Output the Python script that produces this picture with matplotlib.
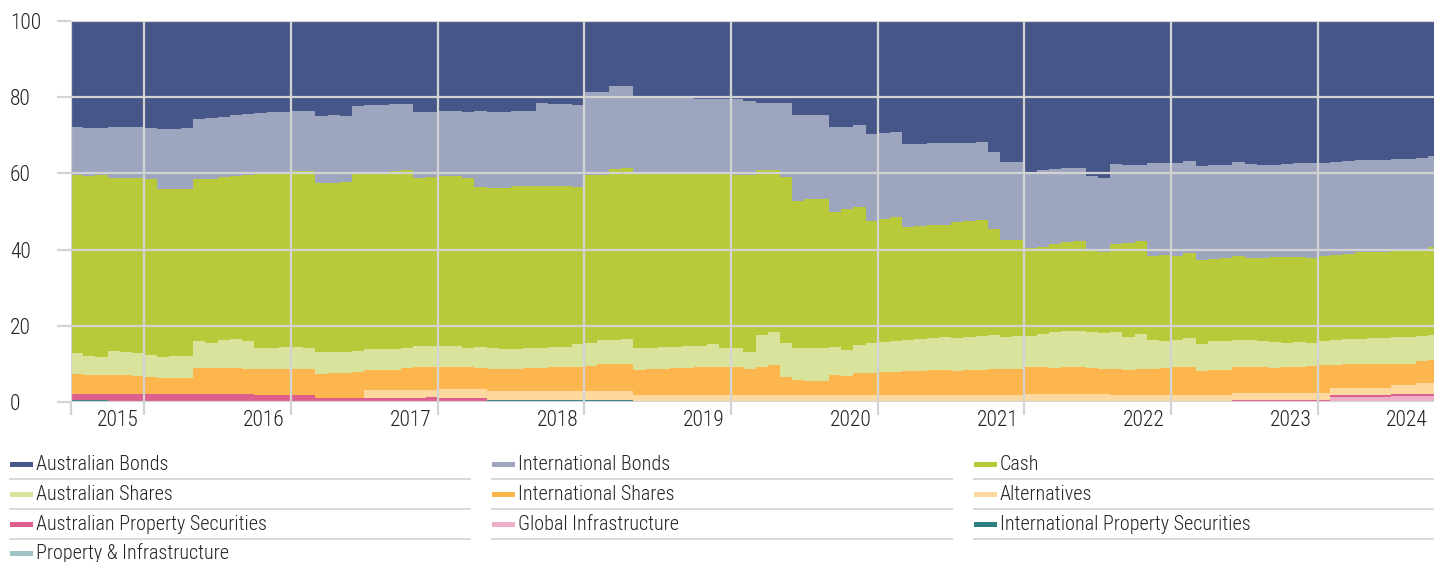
import numpy as np
import matplotlib
matplotlib.use("Agg")
import matplotlib.pyplot as plt
from matplotlib.lines import Line2D
from matplotlib.patches import Rectangle
from matplotlib import font_manager as fm

# pick a condensed sans font if one is installed
_entries = fm.fontManager.ttflist
_family, _stretch, _condensed = 'DejaVu Sans', 'normal', False
for want in ['Roboto Condensed', 'Liberation Sans Narrow', 'Noto Sans', 'Open Sans',
             'DejaVu Sans Condensed', 'DejaVu Sans']:
    hits = [f for f in _entries if f.name == want and
            ('Condensed' in want or 'Narrow' in want or
             str(f.stretch) in ('condensed', 'semi-condensed', 'extra-condensed'))]
    if hits:
        _family = want
        _stretch = hits[0].stretch if str(hits[0].stretch) != 'normal' else 'normal'
        _condensed = True
        break
plt.rcParams['font.family'] = [_family, 'DejaVu Sans']
plt.rcParams['font.stretch'] = _stretch
plt.rcParams['font.weight'] = 'light'
TICK_FS = 15.5 if _condensed else 12.5
LEG_FS = 14.5 if _condensed else 11.8

# ---------------- data (monthly, Jul 2015 .. Oct 2024, % of portfolio) ----------------
years = [2015, 2016, 2017, 2018, 2019, 2020, 2021, 2022, 2023, 2024]
first_year_months = 6  # months shown in the first (partial) year

aus_bonds = [
    27.9, 28.2, 28.2, 27.9, 27.9, 27.8, 28.2, 28.4, 28.4, 28.0,
    25.7, 25.5, 25.1, 24.8, 24.5, 24.1, 23.9, 23.8, 23.7, 23.7,
    24.9, 24.8, 25.0, 22.2, 22.1, 22.0, 21.9, 21.8, 24.0, 23.8,
    23.5, 23.7, 23.9, 23.6, 23.8, 23.9, 23.7, 23.7, 21.6, 21.7,
    21.8, 22.0, 18.7, 18.6, 17.1, 17.1, 19.7, 19.7, 19.7, 19.7,
    19.7, 20.5, 20.5, 20.5, 20.5, 20.9, 21.6, 21.6, 21.4, 24.7,
    24.7, 24.7, 27.9, 27.9, 27.3, 29.7, 29.5, 29.2, 32.2, 32.2,
    32.1, 32.0, 32.0, 31.9, 31.8, 34.3, 37.0, 37.0, 39.6, 39.2,
    38.8, 38.5, 38.5, 40.8, 41.3, 37.6, 37.8, 37.7, 37.4, 37.2,
    37.2, 36.8, 38.0, 37.7, 37.7, 37.0, 37.5, 37.9, 37.8, 37.5,
    37.4, 37.4, 37.2, 36.9, 36.7, 36.4, 36.4, 36.4, 36.1, 36.1,
    35.9, 35.4,
]
intl_bonds = [
    12.5, 12.4, 12.2, 13.4, 13.4, 13.5, 13.4, 15.6, 15.6, 16.0,
    15.8, 16.0, 15.9, 15.9, 16.0, 15.7, 15.9, 16.0, 15.6, 15.6,
    17.5, 17.6, 17.3, 17.5, 17.6, 17.6, 17.6, 17.4, 17.3, 17.2,
    17.3, 17.1, 17.4, 20.1, 20.0, 19.9, 19.7, 19.7, 21.8, 21.6,
    21.5, 21.5, 21.7, 21.8, 21.7, 21.6, 20.5, 20.5, 20.5, 20.5,
    20.5, 19.7, 19.7, 19.7, 19.9, 19.6, 17.5, 17.5, 19.5, 22.5,
    22.1, 22.1, 22.3, 21.4, 21.5, 22.8, 22.5, 22.3, 21.9, 21.7,
    21.5, 21.6, 20.7, 20.5, 20.3, 20.4, 20.6, 20.6, 20.1, 20.2,
    19.8, 19.4, 19.3, 19.4, 19.3, 20.8, 20.4, 20.0, 24.2, 24.2,
    24.4, 24.2, 24.7, 24.7, 24.4, 24.8, 24.8, 24.3, 24.2, 24.4,
    24.6, 24.9, 24.4, 24.4, 24.4, 24.1, 24.1, 24.1, 24.3, 24.3,
    24.4, 24.0,
]
cash = [
    46.7, 47.2, 47.7, 45.4, 45.7, 45.9, 46.0, 44.2, 44.0, 43.8,
    42.6, 42.9, 42.8, 42.8, 43.4, 45.9, 46.0, 45.8, 46.3, 46.5,
    44.4, 44.4, 44.5, 47.0, 46.5, 46.6, 46.7, 46.5, 44.1, 44.4,
    44.5, 44.5, 44.4, 41.9, 42.1, 42.4, 42.6, 42.5, 42.5, 42.2,
    42.2, 41.4, 44.0, 43.4, 44.8, 44.8, 45.5, 45.5, 45.3, 45.3,
    45.1, 45.1, 44.7, 45.7, 45.5, 46.3, 43.3, 42.6, 43.7, 38.7,
    39.1, 39.1, 35.3, 37.1, 36.2, 32.1, 32.2, 32.5, 29.6, 29.6,
    29.5, 29.3, 30.4, 30.5, 30.7, 27.8, 25.3, 25.2, 22.9, 22.8,
    23.1, 23.5, 23.6, 21.5, 21.4, 23.1, 24.7, 24.5, 22.1, 22.5,
    22.1, 22.3, 22.1, 21.6, 21.9, 22.0, 21.5, 21.8, 22.2, 22.7,
    22.3, 22.2, 22.4, 22.3, 22.3, 23.0, 22.8, 22.8, 22.6, 22.6,
    22.5, 23.0,
]
aus_shares = [
    5.6, 5.2, 4.8, 6.1, 6.0, 6.0, 5.9, 5.5, 5.7, 5.9,
    6.9, 6.8, 7.4, 7.7, 7.4, 5.7, 5.6, 5.8, 5.7, 5.5,
    5.9, 5.7, 5.7, 5.5, 5.4, 5.4, 5.3, 5.3, 5.5, 5.5,
    5.4, 5.4, 5.0, 5.4, 5.4, 5.1, 5.3, 5.3, 5.3, 5.4,
    5.4, 5.8, 6.2, 6.3, 6.3, 6.4, 5.9, 5.6, 5.8, 5.5,
    5.7, 5.4, 5.8, 5.0, 4.9, 4.5, 8.3, 8.6, 8.8, 8.3,
    8.5, 8.5, 7.4, 6.8, 7.5, 7.9, 8.0, 8.0, 8.1, 8.3,
    8.5, 8.7, 8.7, 8.6, 8.7, 8.8, 8.4, 8.5, 8.2, 8.6,
    9.3, 9.4, 9.4, 9.5, 9.3, 9.8, 8.7, 9.1, 7.6, 7.3,
    7.2, 7.4, 7.1, 7.5, 7.5, 7.0, 7.0, 6.8, 6.8, 6.3,
    6.6, 6.1, 6.3, 6.6, 6.6, 6.5, 6.7, 6.7, 6.9, 6.9,
    6.4, 6.6,
]
intl_shares = [
    5.3, 5.0, 5.1, 5.2, 5.0, 4.8, 4.5, 4.3, 4.3, 4.3,
    7.0, 6.8, 6.6, 6.8, 6.7, 6.8, 6.7, 6.7, 6.8, 6.8,
    6.2, 6.4, 6.4, 6.7, 5.3, 5.3, 5.4, 5.9, 6.0, 6.0,
    6.0, 6.0, 6.0, 5.7, 5.8, 5.8, 5.8, 5.9, 5.9, 6.2,
    6.2, 6.4, 6.5, 7.0, 7.2, 7.2, 6.6, 6.9, 6.9, 7.2,
    7.2, 7.5, 7.5, 7.3, 7.4, 6.9, 7.5, 7.9, 4.8, 4.0,
    3.8, 3.8, 5.3, 5.0, 5.7, 5.7, 6.0, 6.2, 6.4, 6.4,
    6.6, 6.6, 6.4, 6.7, 6.7, 6.9, 6.9, 6.9, 7.2, 7.2,
    7.0, 7.2, 7.2, 6.8, 6.7, 6.9, 6.6, 6.9, 6.9, 7.0,
    7.3, 7.5, 6.3, 6.7, 6.7, 6.8, 6.8, 6.8, 6.6, 6.7,
    6.7, 7.0, 7.3, 6.2, 6.4, 6.4, 6.4, 6.4, 5.7, 5.7,
    5.8, 6.0,
]
alternatives = [
    0, 0, 0, 0, 0, 0, 0, 0, 0, 0,
    0, 0, 0, 0, 0, 0, 0, 0, 0, 0,
    0, 0, 0, 0, 2.0, 2.0, 2.0, 2.0, 2.0, 1.7,
    2.2, 2.2, 2.2, 2.2, 2.3, 2.3, 2.3, 2.3, 2.3, 2.3,
    2.3, 2.3, 2.3, 2.3, 2.3, 2.3, 1.8, 1.8, 1.8, 1.8,
    1.8, 1.8, 1.8, 1.8, 1.8, 1.8, 1.8, 1.8, 1.8, 1.8,
    1.8, 1.8, 1.8, 1.8, 1.8, 1.8, 1.8, 1.8, 1.8, 1.8,
    1.8, 1.8, 1.8, 1.8, 1.8, 1.8, 1.8, 1.8, 2.0, 2.0,
    2.0, 2.0, 2.0, 2.0, 2.0, 1.8, 1.8, 1.8, 1.8, 1.8,
    1.8, 1.8, 1.8, 1.8, 1.8, 1.95, 1.95, 1.95, 1.95, 1.95,
    1.95, 1.95, 1.95, 1.75, 1.75, 1.75, 1.75, 1.75, 2.2, 2.2,
    2.8, 2.8,
]
aus_property = [
    1.6, 1.6, 1.6, 2.0, 2.0, 2.0, 2.0, 2.0, 2.0, 2.0,
    2.0, 2.0, 2.2, 2.0, 2.0, 1.8, 1.9, 1.9, 1.9, 1.9,
    1.1, 1.1, 1.1, 1.1, 1.1, 1.1, 1.1, 1.1, 1.1, 1.4,
    1.1, 1.1, 1.1, 1.1, 0, 0, 0, 0, 0, 0,
    0, 0, 0, 0, 0, 0, 0, 0, 0, 0,
    0, 0, 0, 0, 0, 0, 0, 0, 0, 0,
    0, 0, 0, 0, 0, 0, 0, 0, 0, 0,
    0, 0, 0, 0, 0, 0, 0, 0, 0, 0,
    0, 0, 0, 0, 0, 0, 0, 0, 0, 0,
    0, 0, 0, 0, 0, 0.3, 0.3, 0.3, 0.3, 0.3,
    0.3, 0.3, 0.3, 0.45, 0.45, 0.45, 0.45, 0.45, 0.5, 0.5,
    0.5, 0.5,
]
global_infra = [
    0, 0, 0, 0, 0, 0, 0, 0, 0, 0,
    0, 0, 0, 0, 0, 0, 0, 0, 0, 0,
    0, 0, 0, 0, 0, 0, 0, 0, 0, 0,
    0, 0, 0, 0, 0, 0, 0, 0, 0, 0,
    0, 0, 0, 0, 0, 0, 0, 0, 0, 0,
    0, 0, 0, 0, 0, 0, 0, 0, 0, 0,
    0, 0, 0, 0, 0, 0, 0, 0, 0, 0,
    0, 0, 0, 0, 0, 0, 0, 0, 0, 0,
    0, 0, 0, 0, 0, 0, 0, 0, 0, 0,
    0, 0, 0, 0, 0, 0.15, 0.15, 0.15, 0.15, 0.15,
    0.15, 0.15, 0.15, 1.4, 1.4, 1.4, 1.4, 1.4, 1.7, 1.7,
    1.7, 1.7,
]
intl_property = [
    0.2, 0.2, 0.2, 0, 0, 0, 0, 0, 0, 0,
    0, 0, 0, 0, 0, 0, 0, 0, 0, 0,
    0, 0, 0, 0, 0, 0, 0, 0, 0, 0,
    0, 0, 0, 0, 0.6, 0.6, 0.6, 0.6, 0.6, 0.6,
    0.6, 0.6, 0.6, 0.6, 0.6, 0.6, 0, 0, 0, 0,
    0, 0, 0, 0, 0, 0, 0, 0, 0, 0,
    0, 0, 0, 0, 0, 0, 0, 0, 0, 0,
    0, 0, 0, 0, 0, 0, 0, 0, 0, 0,
    0, 0, 0, 0, 0, 0, 0, 0, 0, 0,
    0, 0, 0, 0, 0, 0, 0, 0, 0, 0,
    0, 0, 0, 0, 0, 0, 0, 0, 0, 0,
    0, 0,
]
prop_infra = [
    0.2, 0.2, 0.2, 0, 0, 0, 0, 0, 0, 0,
    0, 0, 0, 0, 0, 0, 0, 0, 0, 0,
    0, 0, 0, 0, 0, 0, 0, 0, 0, 0,
    0, 0, 0, 0, 0, 0, 0, 0, 0, 0,
    0, 0, 0, 0, 0, 0, 0, 0, 0, 0,
    0, 0, 0, 0, 0, 0, 0, 0, 0, 0,
    0, 0, 0, 0, 0, 0, 0, 0, 0, 0,
    0, 0, 0, 0, 0, 0, 0, 0, 0, 0,
    0, 0, 0, 0, 0, 0, 0, 0, 0, 0,
    0, 0, 0, 0, 0, 0, 0, 0, 0, 0,
    0, 0, 0, 0, 0, 0, 0, 0, 0, 0,
    0, 0,
]

# legend order (top of stack first)
names = ["Australian Bonds", "International Bonds", "Cash",
         "Australian Shares", "International Shares", "Alternatives",
         "Australian Property Securities", "Global Infrastructure",
         "International Property Securities", "Property & Infrastructure"]
series = [aus_bonds, intl_bonds, cash, aus_shares, intl_shares, alternatives,
          aus_property, global_infra, intl_property, prop_infra]
colors = ["#465688", "#9EA6BF", "#B8CA3A", "#D9E39C", "#FDB64E", "#FDD9A0",
          "#DC5F8E", "#EEB0C8", "#2E7F80", "#9FC4C8"]

# ---------------- figure ----------------
W, H = 1434, 562
fig = plt.figure(figsize=(W / 100, H / 100), dpi=100)
ax = fig.add_axes([71 / W, 1 - 402 / H, 1363 / W, 381 / H])

n = len(aus_bonds)
xs = np.arange(n + 1)
stack = [np.append(s, s[-1]) for s in series[::-1]]
ax.stackplot(xs, *stack, colors=colors[::-1], step='post',
             linewidth=0, antialiased=False)

grid_c = "#D3D3D3"
xmax = n - 0.5
ax.set_xlim(0, xmax)
ax.set_ylim(0, 100)
year_ticks = [0] + [first_year_months + 12 * k for k in range(len(years) - 1)]
ax.set_xticks(year_ticks)
ax.set_yticks([0, 20, 40, 60, 80, 100])
ax.set_axisbelow(False)
ax.grid(True, color=grid_c, linewidth=1.6)
for s in ax.spines.values():
    s.set_visible(False)

ax.tick_params(axis='x', length=9.5, width=1.6, color=grid_c, labelbottom=False)
ax.tick_params(axis='y', length=10, width=1.6, color=grid_c, pad=34,
               labelsize=TICK_FS, labelcolor="#222222")
for lbl in ax.get_yticklabels():
    lbl.set_horizontalalignment('left')

for k, yr in enumerate(years):
    pos = min(first_year_months + 12 * k, xmax)
    ax.annotate(str(yr), xy=(pos, 0), xycoords=('data', 'axes fraction'),
                xytext=(-6, -18), textcoords='offset pixels',
                ha='right', va='center', fontsize=TICK_FS, color="#222222")

# ---------------- legend ----------------
col_x = [10, 492, 974]
row_y = [464, 494, 524, 553]
for k, (name, c) in enumerate(zip(names, colors)):
    r, cidx = divmod(k, 3)
    x0, y0 = col_x[cidx], row_y[r]
    fig.add_artist(Rectangle((x0 / W, 1 - (y0 + 2.5) / H), 23 / W, 5 / H,
                             transform=fig.transFigure, facecolor=c,
                             edgecolor='none'))
    fig.text((x0 + 26) / W, 1 - (y0 + 0.5) / H, name, ha='left', va='center',
             fontsize=LEG_FS, color="#222222")
    ysep = y0 + 15
    if ysep < H:
        fig.add_artist(Line2D([x0 / W, (x0 + 460) / W], [1 - ysep / H, 1 - ysep / H],
                              transform=fig.transFigure, color="#D9D9D9",
                              linewidth=1.4))

fig.savefig("out.png", dpi=100)
